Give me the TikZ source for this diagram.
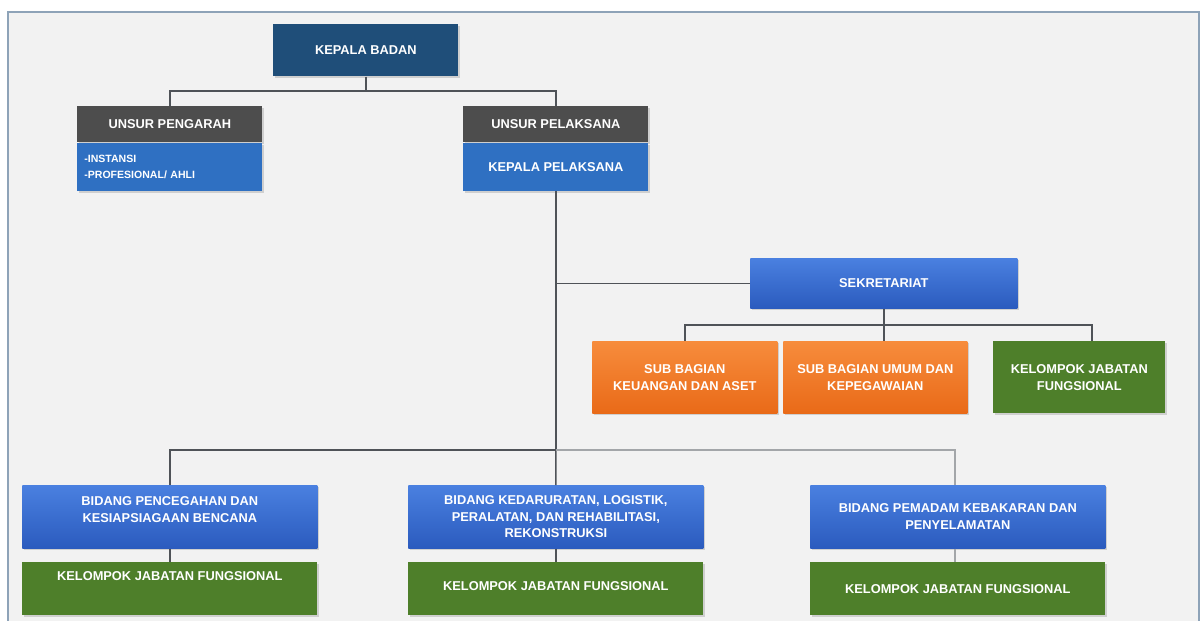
\documentclass[tikz,border=0pt]{standalone}
\usepackage{fontspec}
\setmainfont{Liberation Sans}
\usetikzlibrary{positioning,shadows}
\definecolor{bgpanel}{HTML}{F2F2F2}
\definecolor{framec}{HTML}{8EA3B8}
\definecolor{darkblue}{HTML}{1F4E79}
\definecolor{headgray}{HTML}{4D4D4D}
\definecolor{midblue}{HTML}{2F70C2}
\definecolor{bluetop}{HTML}{4A80E0}
\definecolor{bluebot}{HTML}{2B5BBE}
\definecolor{orangetop}{HTML}{F78C3C}
\definecolor{orangebot}{HTML}{E96A18}
\definecolor{greenbox}{HTML}{4E7F2A}
\definecolor{linedark}{HTML}{4F5358}
\definecolor{linelight}{HTML}{A3A6A9}

\begin{document}
\begin{tikzpicture}[x=0.02cm,y=-0.02cm]
    \tikzset{box/.style = {anchor=north west, text=white, align=center, inner sep=2pt,
        font=\fontsize{7.3}{9.5}\selectfont\bfseries,
        drop shadow={opacity=0.3, shadow xshift=1pt, shadow yshift=-1pt}}}
    \tikzset{bluebox/.style = {box, top color=bluetop, bottom color=bluebot}}
    \tikzset{orangebox/.style = {box, top color=orangetop, bottom color=orangebot}}
    \tikzset{greenbox/.style = {box, fill=greenbox}}
    \tikzset{conn/.style = {draw=linedark, line width=0.9pt}}
    \tikzset{connlight/.style = {draw=linelight, line width=1.3pt}}

    \useasboundingbox (0,0) rectangle (1203,621);
    \fill[white] (0,0) rectangle (1203,621);
    \fill[bgpanel] (8,12) rectangle (1199,621);
    \draw[framec, line width=1pt] (8,621) -- (8,12) -- (1199,12) -- (1199,621);

    \node[box, fill=darkblue, minimum width=3.7cm, minimum height=1.04cm] (kb) at (273,24) {KEPALA BADAN};

    \node[box, fill=headgray, minimum width=3.7cm, minimum height=0.72cm] (uph) at (77,106) {UNSUR PENGARAH};
    \node[box, fill=midblue, minimum height=0.96cm, text width=3.42cm, inner xsep=0.14cm, align=left,
        font=\fontsize{6}{9}\selectfont\bfseries, below=0pt of uph] (upb) {-INSTANSI\\-PROFESIONAL/ AHLI};

    \node[box, fill=headgray, minimum width=3.7cm, minimum height=0.72cm] (plh) at (463,106) {UNSUR PELAKSANA};
    \node[box, fill=midblue, minimum width=3.7cm, minimum height=0.96cm, below=0pt of plh] (plb) {KEPALA PELAKSANA};

    \node[bluebox, minimum width=5.34cm, minimum height=1.0cm] (sek) at (750,258) {SEKRETARIAT};

    \node[orangebox, minimum width=3.7cm, minimum height=1.44cm] (s1) at (592,341) {SUB BAGIAN\\KEUANGAN DAN ASET};
    \node[orangebox, minimum width=3.68cm, minimum height=1.44cm] (s2) at (783,341) {SUB BAGIAN UMUM DAN\\KEPEGAWAIAN};
    \node[greenbox, minimum width=3.44cm, minimum height=1.44cm] (s3) at (993,341) {KELOMPOK JABATAN\\FUNGSIONAL};

    \node[bluebox, minimum width=5.9cm, minimum height=1.26cm, text depth=0.28cm] (b1) at (22,485) {BIDANG PENCEGAHAN DAN\\KESIAPSIAGAAN BENCANA};
    \node[bluebox, minimum width=5.9cm, minimum height=1.26cm] (b2) at (408,485) {BIDANG KEDARURATAN, LOGISTIK,\\PERALATAN, DAN REHABILITASI,\\REKONSTRUKSI};
    \node[bluebox, minimum width=5.9cm, minimum height=1.26cm] (b3) at (810,485) {BIDANG PEMADAM KEBAKARAN DAN\\PENYELAMATAN};

    \node[greenbox, minimum width=5.9cm, minimum height=1.06cm, text depth=0.5cm] (g1) at (22,562) {KELOMPOK JABATAN FUNGSIONAL};
    \node[greenbox, minimum width=5.9cm, minimum height=1.06cm, text depth=0.12cm] (g2) at (408,562) {KELOMPOK JABATAN FUNGSIONAL};
    \node[greenbox, minimum width=5.9cm, minimum height=1.06cm] (g3) at (810,562) {KELOMPOK JABATAN FUNGSIONAL};

    \coordinate (topbus) at (kb.south |- 0,91);
    \coordinate (sekbus) at (sek.south |- 0,325);
    \coordinate (s3top) at (1092,341);
    \coordinate (lowbus) at (plb.south |- 0,450);
    \coordinate (rightdrop) at (955,485);

    \draw[conn] (kb.south) -- (topbus);
    \draw[conn] (uph.north) |- (topbus) -| (plh.north);
    \draw[conn] (plb.south) -- (lowbus);
    \draw[conn] (sek.west) -- (sek.west -| plb.south);
    \draw[conn] (sek.south) -- (sekbus);
    \draw[conn] (s1.north) |- (sekbus) -| (s3top);
    \draw[conn] (sekbus) -- (sekbus |- s2.north);
    \draw[conn] (b1.north) |- (lowbus);
    \draw[conn] (lowbus) -- (b2.north);
    \draw[connlight] (lowbus) -| (rightdrop);
    \draw[conn] (b1.south) -- (g1.north);
    \draw[conn] (b2.south) -- (g2.north);
    \draw[connlight] (rightdrop |- b3.south) -- (rightdrop |- g3.north);
\end{tikzpicture}
\end{document}
